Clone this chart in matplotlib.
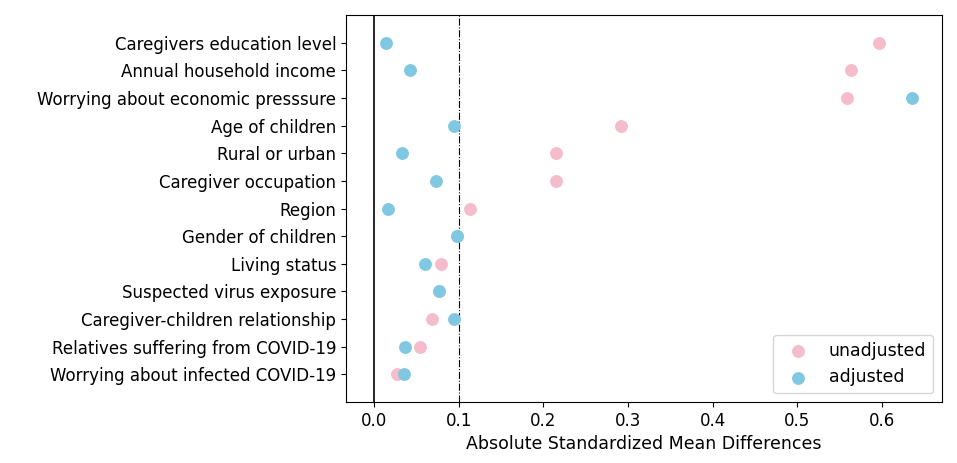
import matplotlib
matplotlib.use("Agg")
import matplotlib.pyplot as plt
import numpy as np

# covariates, top to bottom
covariaveis = [
    "Caregivers education level",
    "Annual household income",
    "Worrying about economic presssure",
    "Age of children",
    "Rural or urban",
    "Caregiver occupation",
    "Region",
    "Gender of children",
    "Living status",
    "Suspected virus exposure",
    "Caregiver-children relationship",
    "Relatives suffering from COVID-19",
    "Worrying about infected COVID-19",
]

smd_unadjusted = [0.597, 0.564, 0.559, 0.292, 0.215, 0.215, 0.114,
                  0.098, 0.079, 0.077, 0.068, 0.054, 0.027]
smd_adjusted = [0.014, 0.042, 0.635, 0.095, 0.033, 0.073, 0.016,
                0.098, 0.060, 0.077, 0.094, 0.037, 0.035]

fig = plt.figure(figsize=(9.57, 4.63), dpi=100)
ax = fig.add_axes([0.3616, 0.1317, 0.6227, 0.8359])

y = np.arange(len(covariaveis))
ax.scatter(smd_unadjusted, y, s=68, color="#f5bccb", label="unadjusted", zorder=2)
ax.scatter(smd_adjusted, y, s=68, color="#80c8e2", label="adjusted", zorder=3)

ax.axvline(0, color="black", linewidth=1.2, zorder=1)
ax.axvline(0.1, color="black", linewidth=0.8, linestyle="-.", zorder=1)

ax.set_yticks(y)
ax.set_yticklabels(covariaveis, fontsize=12)
ax.set_ylim(len(covariaveis), -1)
ax.set_xlim(-0.033, 0.671)
ax.set_xticks([0.0, 0.1, 0.2, 0.3, 0.4, 0.5, 0.6])
ax.tick_params(axis="x", labelsize=12)
ax.set_xlabel("Absolute Standardized Mean Differences", fontsize=12.5)
ax.legend(loc="lower right", fontsize=12.5)

plt.savefig("out.png", dpi=100)
